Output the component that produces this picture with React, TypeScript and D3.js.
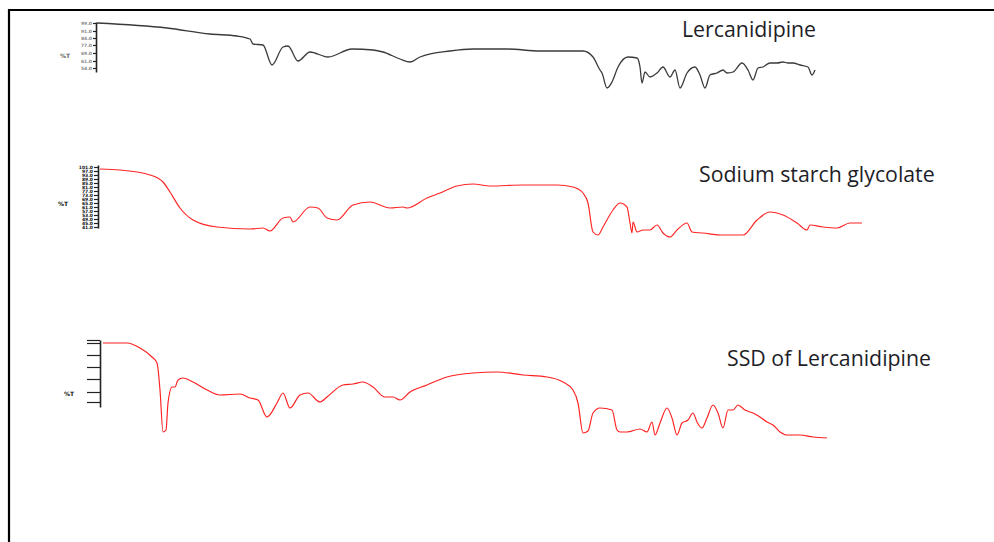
import React, { useRef, useEffect } from 'react';
import * as d3 from 'd3';

// FTIR traces: wavenumber (cm-1) and %T
const lercWave = [4000, 3650, 3435, 3300, 3235, 3220, 3170, 3125, 3070, 3045, 2995, 2935, 2845, 2725, 2620, 2570, 2485, 2435, 2385, 2235, 2120, 1950, 1785, 1635, 1570, 1520, 1485, 1475, 1450, 1425, 1395, 1345, 1300, 1285, 1275, 1260, 1235, 1200, 1170, 1135, 1110, 1085, 1050, 1010, 985, 960, 935, 900, 870, 850, 820, 775, 745, 720, 695, 670, 635, 600, 570, 545, 520, 485, 445, 425, 410];
const lercT = [99, 94, 88, 86, 83, 78, 77, 57, 75, 76, 61, 70, 65, 73, 72, 70, 63, 60, 65, 71, 73, 73, 71, 71, 71, 65, 52, 49, 34, 40, 55, 65, 64, 55, 39, 50, 45, 49, 55, 45, 52, 34, 49, 55, 47, 34, 47, 49, 52, 49, 50, 59, 52, 42, 54, 55, 59, 59, 60, 59, 59, 57, 55, 47, 52];

const ssgWave = [3985, 3885, 3735, 3670, 3635, 3585, 3520, 3400, 3235, 3170, 3135, 3070, 3035, 3020, 2935, 2895, 2850, 2800, 2720, 2635, 2535, 2470, 2450, 2350, 2285, 2200, 2120, 2035, 1870, 1700, 1620, 1570, 1545, 1520, 1495, 1470, 1420, 1385, 1350, 1335, 1325, 1320, 1300, 1270, 1235, 1200, 1170, 1135, 1100, 1050, 1025, 970, 885, 770, 700, 635, 570, 500, 450, 435, 370, 300, 235, 175];
const ssgT = [99, 98, 93, 86, 76, 60, 48, 41, 39, 40, 37, 50, 51, 46, 61, 60, 50, 48, 63, 66, 60, 61, 60, 70, 75, 82, 84, 82, 83, 83, 81, 75, 65, 36, 33, 41, 58, 65, 61, 45, 35, 46, 36, 38, 38, 43, 35, 31, 38, 45, 36, 35, 33, 33, 48, 56, 53, 45, 38, 43, 41, 40, 45, 45];

const ssdWave = [3970, 3850, 3785, 3725, 3700, 3685, 3670, 3655, 3645, 3625, 3610, 3595, 3570, 3520, 3450, 3385, 3285, 3235, 3195, 3150, 3100, 3070, 3035, 2985, 2945, 2885, 2850, 2770, 2720, 2670, 2620, 2560, 2520, 2485, 2435, 2350, 2250, 2120, 2000, 1870, 1750, 1670, 1620, 1595, 1570, 1545, 1520, 1485, 1425, 1400, 1385, 1350, 1285, 1250, 1225, 1210, 1185, 1150, 1125, 1100, 1075, 1045, 1020, 1000, 975, 950, 920, 895, 870, 845, 820, 795, 760, 720, 685, 650, 620, 585, 550, 485, 420, 350];
const ssdT = [99, 99, 94, 85, 79, 52, 10, 12, 39, 55, 55, 62, 64, 60, 52, 47, 48, 44, 42, 25, 39, 49, 34, 47, 49, 40, 45, 57, 58, 60, 55, 45, 45, 42, 50, 57, 65, 69, 70, 67, 65, 60, 52, 39, 9, 11, 29, 34, 32, 12, 10, 10, 13, 10, 20, 7, 19, 34, 24, 7, 19, 22, 29, 20, 14, 24, 37, 29, 14, 32, 32, 37, 32, 29, 25, 20, 17, 10, 7, 7, 5, 4];

const titles = ['Lercanidipine', 'Sodium starch glycolate', 'SSD of Lercanidipine'];

// tick marks on the small %T axes
const lercTicks = [99, 91, 84, 77, 69, 61, 54];
const ssgTicks = [101, 97, 93, 89, 85, 81, 77, 73, 69, 65, 61, 57, 53, 49, 45, 41];
const ssdTicks = [102, 99, 87, 75, 63, 50, 40];

const W = 994;
const H = 542;

const App = () => {
  const svgRef = useRef<SVGSVGElement | null>(null);

  useEffect(() => {
    if (!svgRef.current) return;
    const svg = d3.select(svgRef.current);
    svg.selectAll('*').remove();

    svg.append('rect').attr('width', W).attr('height', H).attr('fill', '#fff');

    // frame (top and left edges only, as in the scan)
    svg.append('path')
      .attr('d', `M9,${H} L9,10 L${W},10`)
      .attr('fill', 'none')
      .attr('stroke', '#000')
      .attr('stroke-width', 2.2);

    const x = d3.scaleLinear().domain([4000, 175]).range([97, 862]);

    const panels = [
      { wave: lercWave, t: lercT, yTop: 22, axisX: 96, axisLo: 50, axisHi: 100, ticks: lercTicks,
        color: '#3a3a3a', width: 1.3, tickSize: 3, labelColor: '#888', labels: true,
        title: titles[0], tx: 682, ty: 37, yl: [60, 58] },
      { wave: ssgWave, t: ssgT, yTop: 168, axisX: 98, axisLo: 40, axisHi: 103, ticks: ssgTicks,
        color: '#ff2525', width: 1.15, tickSize: 4, labelColor: '#111', labels: true,
        title: titles[1], tx: 699, ty: 182, yl: [58, 206] },
      { wave: ssdWave, t: ssdT, yTop: 342, axisX: 100, axisLo: 35, axisHi: 102, ticks: ssdTicks,
        color: '#ff2020', width: 1.15, tickSize: 13, labelColor: '#111', labels: false,
        title: titles[2], tx: 727, ty: 366, yl: [64, 396] },
    ];

    panels.forEach((p) => {
      const y = d3.scaleLinear().domain([0, 100]).range([p.yTop + 100, p.yTop]);

      const axisScale = d3.scaleLinear()
        .domain([p.axisLo, p.axisHi])
        .range([y(p.axisLo), y(p.axisHi)]);

      const axis = d3.axisLeft(axisScale)
        .tickValues(p.ticks)
        .tickSize(p.tickSize)
        .tickSizeOuter(0)
        .tickPadding(1)
        .tickFormat(p.labels ? (d) => d3.format('.1f')(d as number) : () => '');

      const g = svg.append('g')
        .attr('transform', `translate(${p.axisX},0)`)
        .call(axis);
      g.select('.domain').attr('stroke', '#222').attr('stroke-width', 1.6);
      g.selectAll('.tick line').attr('stroke', '#222').attr('stroke-width', 1.2);
      g.selectAll('.tick text')
        .attr('fill', p.labelColor)
        .attr('font-size', 4.5)
        .attr('font-weight', 'bold')
        .attr('font-family', 'DejaVu Sans');

      // tiny %T axis title
      svg.append('text')
        .attr('x', p.yl[0])
        .attr('y', p.yl[1])
        .attr('font-size', 6)
        .attr('font-weight', 'bold')
        .attr('font-family', 'DejaVu Sans')
        .attr('fill', p.labelColor === '#888' ? '#666' : '#111')
        .text('%T');

      const pts = p.wave.map((w, i) => [w, p.t[i]] as [number, number]);
      const line = d3.line<[number, number]>()
        .x((d) => x(d[0]))
        .y((d) => y(d[1]))
        .curve(d3.curveMonotoneX);

      svg.append('path')
        .datum(pts)
        .attr('fill', 'none')
        .attr('stroke', p.color)
        .attr('stroke-width', p.width)
        .attr('stroke-linejoin', 'round')
        .attr('d', line);

      svg.append('text')
        .attr('x', p.tx)
        .attr('y', p.ty)
        .attr('font-family', '"Open Sans", Lato, sans-serif')
        .attr('font-size', 21.3)
        .attr('fill', '#1e1e28')
        .text(p.title);
    });
  }, []);

  return (
    <svg
      ref={svgRef}
      width={W}
      height={H}
      style={{ position: 'fixed', left: 0, top: 0, display: 'block' }}
    />
  );
};

export default App;
